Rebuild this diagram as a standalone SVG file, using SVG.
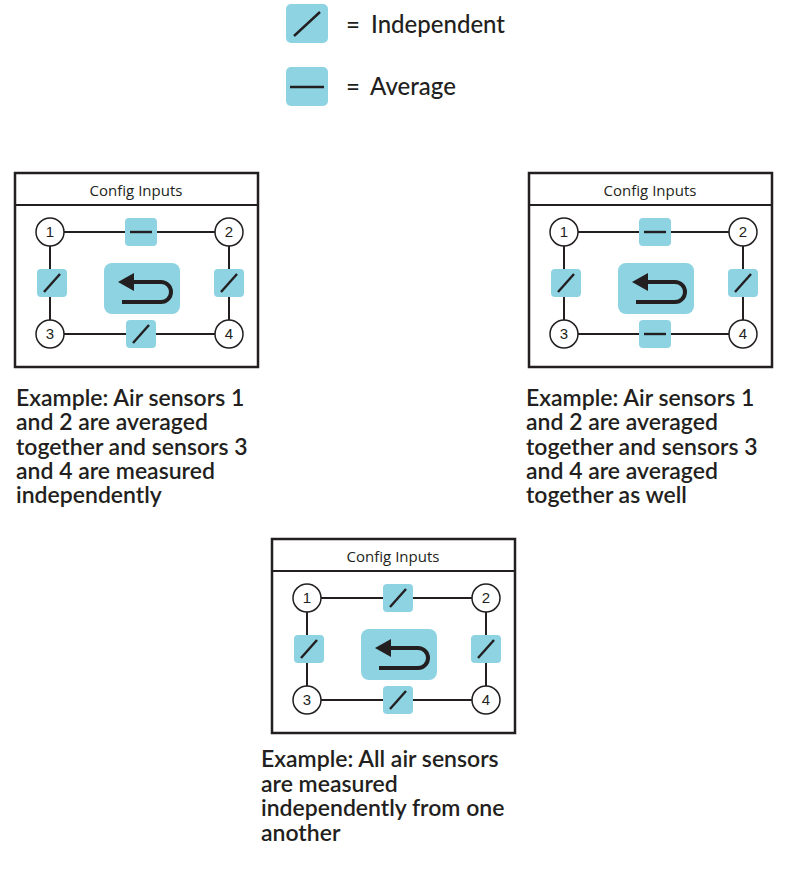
<svg xmlns="http://www.w3.org/2000/svg" width="802" height="874" viewBox="0 0 802 874">
<defs>
<style>
.frame{fill:#fff;stroke:#231f20;stroke-width:2.5}
.ln{stroke:#231f20;stroke-width:2;fill:none}
.c{fill:#fff;stroke:#231f20;stroke-width:1.5}
.b{fill:#8dd3e2}
.g{stroke:#231f20;stroke-width:2.4;fill:none}
.n{font-family:"Liberation Sans",sans-serif;font-size:15px;fill:#231f20;text-anchor:middle}
.t{font-family:"Open Sans","Liberation Sans",sans-serif;font-size:15px;fill:#231f20;text-anchor:middle}
.d{font-family:Lato,"Liberation Sans",sans-serif;font-size:23px;font-weight:600;fill:#231f20}
.l{font-family:Lato,"Liberation Sans",sans-serif;font-size:24px;font-weight:500;fill:#231f20}
</style>
<g id="ind"><rect class="b" x="-15" y="-14" width="30" height="28" rx="4"/><line class="g" x1="-8" y1="9" x2="8" y2="-9"/></g>
<g id="avg"><rect class="b" x="-16" y="-14" width="32" height="28" rx="4"/><line class="g" x1="-11" y1="0" x2="11" y2="0"/></g>
<g id="base">
<rect class="frame" x="0" y="0" width="243" height="194"/>
<line class="ln" x1="0" y1="32" x2="243" y2="32"/>
<text class="t" x="121" y="23">Config Inputs</text>
<path class="ln" d="M35,59 H214 V161 H35 Z"/>
<rect class="b" x="89" y="90" width="76" height="51" rx="8"/>
<path d="M117,109 H146 A10,10 0 0 1 146,129 H107" fill="none" stroke="#231f20" stroke-width="4"/>
<polygon points="103,109 119,100 119,118" fill="#231f20"/>
<circle class="c" cx="35" cy="59" r="14"/><text class="n" x="35" y="64">1</text>
<circle class="c" cx="214" cy="59" r="14"/><text class="n" x="214" y="64">2</text>
<circle class="c" cx="35" cy="161" r="14"/><text class="n" x="35" y="166">3</text>
<circle class="c" cx="214" cy="161" r="14"/><text class="n" x="214" y="166">4</text>
</g>
</defs>
<g id="legend">
<rect class="b" x="286" y="4" width="42" height="39" rx="5"/><line class="g" x1="294" y1="36" x2="320" y2="12"/>
<text class="l" x="346" y="33">=</text><text class="l" x="371" y="33">Independent</text>
<rect class="b" x="286" y="67" width="42" height="39" rx="5"/><line class="g" x1="290" y1="87" x2="324" y2="87"/>
<text class="l" x="346" y="95">=</text><text class="l" x="370" y="95">Average</text>
</g>
<g id="panel1">
<use href="#base" x="15" y="173"/>
<use href="#avg" x="141" y="232"/><use href="#ind" x="52" y="283"/><use href="#ind" x="229" y="283"/><use href="#ind" x="141" y="334"/>
<text class="d" x="16" y="406">Example: Air sensors 1</text>
<text class="d" x="16" y="430">and 2 are averaged</text>
<text class="d" x="16" y="455">together and sensors 3</text>
<text class="d" x="16" y="479">and 4 are measured</text>
<text class="d" x="16" y="503">independently</text>
</g>
<g id="panel2">
<use href="#base" x="529" y="173"/>
<use href="#avg" x="655" y="232"/><use href="#ind" x="566" y="283"/><use href="#ind" x="743" y="283"/><use href="#avg" x="655" y="334"/>
<text class="d" x="526" y="406">Example: Air sensors 1</text>
<text class="d" x="526" y="430">and 2 are averaged</text>
<text class="d" x="526" y="455">together and sensors 3</text>
<text class="d" x="526" y="479">and 4 are averaged</text>
<text class="d" x="526" y="503">together as well</text>
</g>
<g id="panel3">
<use href="#base" x="272" y="539"/>
<use href="#ind" x="398" y="598"/><use href="#ind" x="309" y="649"/><use href="#ind" x="486" y="649"/><use href="#ind" x="398" y="700"/>
<text class="d" x="261" y="767">Example: All air sensors</text>
<text class="d" x="261" y="792">are measured</text>
<text class="d" x="261" y="816">independently from one</text>
<text class="d" x="261" y="841">another</text>
</g>
</svg>
